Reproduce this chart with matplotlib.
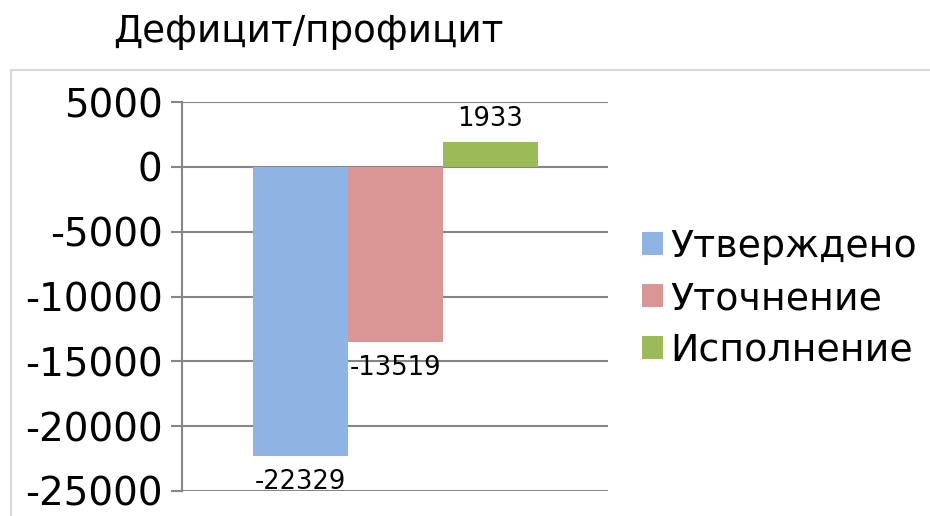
import matplotlib
matplotlib.use("Agg")
import matplotlib.pyplot as plt
from matplotlib.patches import Rectangle

plt.rcParams["axes.unicode_minus"] = False

# data
series = ["Утверждено", "Уточнение", "Исполнение"]
values = [-22329, -13519, 1933]
colors = ["#8EB4E3", "#D99694", "#9BBB59"]
yticks = [5000, 0, -5000, -10000, -15000, -20000, -25000]

fig = plt.figure(figsize=(9.3, 5.16), dpi=100)

# outer chart frame
fig.patches.append(Rectangle((11 / 930, -0.1), 1.0, 1 - 70 / 516 + 0.1,
                             transform=fig.transFigure, fill=False,
                             edgecolor="#D9D9D9", linewidth=1.5))

fig.text(113 / 930, 1 - 32 / 516, "Дефицит/профицит", fontsize=26.8,
         ha="left", va="center")

ax = fig.add_axes([182 / 930, 1 - 491 / 516, 426 / 930, 389 / 516])

handles = []
for i, (name, v, c) in enumerate(zip(series, values, colors)):
    b = ax.bar(i - 1, v, width=1.0, color=c, label=name, zorder=3)
    handles.append(b)
    off = 7 if v > 0 else -9
    ax.annotate(str(v), (i - 1, v), xytext=(0, off), textcoords="offset points",
                ha="center", va="bottom" if v > 0 else "top", fontsize=18.5,
                zorder=4)

ax.set_xlim(-2.247, 2.237)
ax.set_ylim(-25000, 5000)
ax.set_yticks(yticks)
ax.set_xticks([])
ax.yaxis.grid(True, color="#868686", linewidth=1.5, zorder=0)
ax.tick_params(axis="y", length=8, width=1.5, color="#868686", labelsize=28, pad=6)
for s in ["top", "right", "bottom"]:
    ax.spines[s].set_visible(False)
ax.spines["left"].set_color("#868686")
ax.spines["left"].set_linewidth(1.5)

fig.legend(handles=handles, labels=series, loc="center left",
           bbox_to_anchor=(627 / 930, 1 - 299 / 516), frameon=False,
           fontsize=27.3, handlelength=0.55, handleheight=0.55, handletextpad=0.2,
           labelspacing=0.42, borderaxespad=0)

fig.savefig("out.png", dpi=100)
